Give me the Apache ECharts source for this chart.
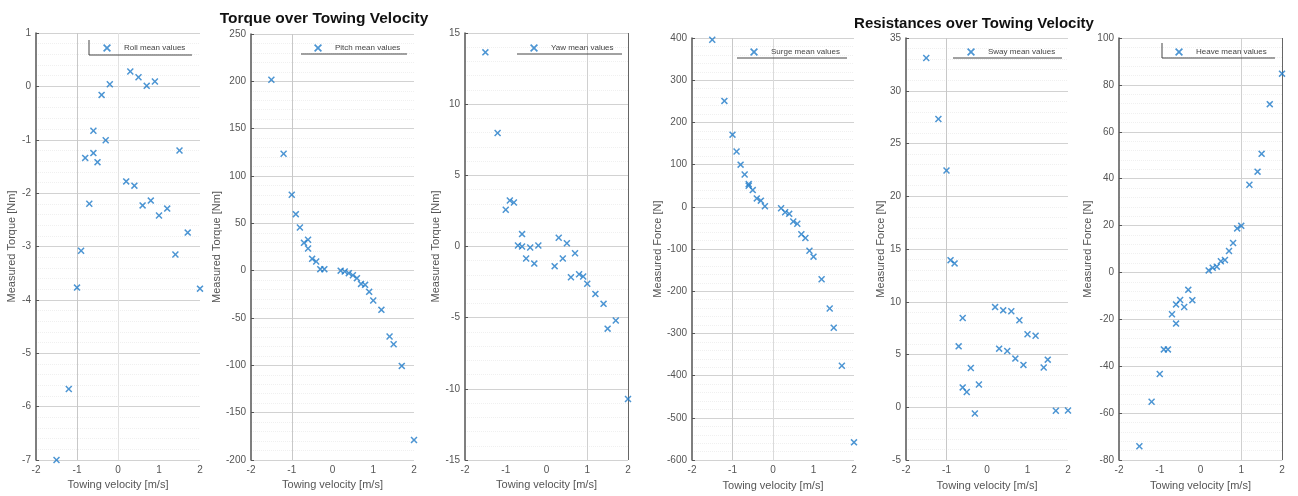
<!DOCTYPE html>
<html>
<head>
  <meta charset="UTF-8">
  <script src="https://cdn.jsdelivr.net/npm/echarts@6/dist/echarts.min.js"></script>
  <style>
    html, body { margin: 0; padding: 0; background: #fff; }
    #chart { width: 1298px; height: 496px; }
  </style>
</head>
<body>
  <div id="chart"></div>
  <script>
    // towing velocity [m/s], same run list for every panel
    var velocity = [-1.5, -1.2, -1.0, -0.9, -0.8, -0.7, -0.6, -0.6, -0.5, -0.4, -0.3, -0.2,
                    0.2, 0.3, 0.4, 0.5, 0.6, 0.7, 0.8, 0.9, 1.0, 1.2, 1.4, 1.5, 1.7, 2.0];

    // torque [Nm]
    var roll = [-7.0, -5.67, -3.77, -3.08, -1.34, -2.2, -0.83, -1.25, -1.42, -0.16, -1.01, 0.04,
                -1.78, 0.28, -1.86, 0.17, -2.23, 0.01, -2.14, 0.09, -2.42, -2.29, -3.15, -1.2, -2.74, -3.79];
    var pitch = [201.7, 123.5, 80.2, 59.7, 45.6, 29.4, 32.6, 23.4, 12.5, 9.7, 1.6, 1.6,
                 0, -0.9, -2.6, -4.8, -7.9, -14, -15, -22.4, -31.5, -41.4, -69.6, -77.7, -100.6, -178.9];
    var yaw = [13.64, 7.97, 2.58, 3.23, 3.09, 0.07, 0.87, 0.0, -0.84, -0.07, -1.2, 0.07,
               -1.38, 0.61, -0.84, 0.23, -2.16, -0.47, -1.95, -2.11, -2.62, -3.33, -4.03, -5.77, -5.2, -10.71];

    // force [N]
    var surge = [395.9, 251, 171, 131, 100, 76.6, 53.9, 50, 39.6, 20, 14.7, 1.4,
                 -3.3, -12.7, -16.6, -34.6, -40, -65, -73.8, -104, -118, -171.5, -241, -286.5, -376.5, -558];
    var sway = [33.1, 27.33, 22.44, 13.95, 13.64, 5.78, 8.47, 1.89, 1.45, 3.73, -0.58, 2.17,
                9.5, 5.56, 9.19, 5.34, 9.1, 4.62, 8.25, 4.02, 6.93, 6.78, 3.77, 4.52, -0.33, -0.3];
    var heave = [-74.1, -55.1, -43.3, -32.8, -32.8, -17.8, -21.8, -13.6, -11.7, -14.7, -7.4, -11.8,
                 0.9, 2.0, 2.5, 4.8, 5.3, 9.2, 12.6, 18.8, 19.9, 37.4, 43.0, 50.6, 71.8, 84.8];

    var seriesNames = ['Roll mean values', 'Pitch mean values', 'Yaw mean values',
                       'Surge mean values', 'Sway mean values', 'Heave mean values'];
    var yNames = ['Measured Torque [Nm]', 'Measured Torque [Nm]', 'Measured Torque [Nm]',
                  'Measured Force [N]', 'Measured Force [N]', 'Measured Force [N]'];
    var yMin = [-7, -200, -15, -600, -5, -80];
    var yMax = [1, 250, 15, 400, 35, 100];
    var yStep = [1, 50, 5, 100, 5, 20];
    var values = [roll, pitch, yaw, surge, sway, heave];

    // layout of the six panels (pixels)
    var panels = [
      {left: 36,   top: 33, w: 164, h: 427, gap: 19, legX: 103,  legY: 44},
      {left: 251,  top: 34, w: 163, h: 426, gap: 24, legX: 314,  legY: 44},
      {left: 465,  top: 33, w: 163, h: 427, gap: 18, legX: 530,  legY: 44},
      {left: 692,  top: 38, w: 162, h: 425, gap: 25, legX: 750,  legY: 48},
      {left: 906,  top: 38, w: 162, h: 425, gap: 18, legX: 967,  legY: 48},
      {left: 1119, top: 38, w: 163, h: 425, gap: 21, legX: 1175, legY: 48}
    ];
    // leftover vertical lines of the scanned grid, per tick -2..2
    var clear = 'rgba(0,0,0,0)';
    var vLines = [
      [clear, '#c8c8c8', '#e2e2e2', clear, clear],
      [clear, '#c8c8c8', clear, clear, clear],
      [clear, clear, clear, '#d0d0d0', '#666'],
      [clear, '#c8c8c8', '#dadada', clear, clear],
      [clear, '#c8c8c8', clear, clear, clear],
      [clear, clear, clear, '#d0d0d0', '#666']
    ];
    // legend box edges: [x1, x2, y, drawLeftEdge]
    var boxes = [
      [89, 192, 55, true], [301, 407, 54, false], [517, 622, 54, false],
      [737, 847, 58, false], [953, 1062, 58, false], [1162, 1275, 58, true]
    ];

    var cross = 'path://M0,1.5 L1.5,0 L5,3.5 L8.5,0 L10,1.5 L6.5,5 L10,8.5 L8.5,10 L5,6.5 L1.5,10 L0,8.5 L3.5,5 Z';
    var blue = '#1f7bc8';
    var font = 'Liberation Sans';

    var grids = [], xAxes = [], yAxes = [], series = [], legends = [], graphics = [];
    panels.forEach(function (p, i) {
      grids.push({left: p.left, top: p.top, width: p.w, height: p.h});
      xAxes.push({
        type: 'value', gridIndex: i, min: -2, max: 2, interval: 1,
        name: 'Towing velocity [m/s]', nameLocation: 'middle', nameGap: 17,
        nameTextStyle: {fontFamily: font, fontSize: 11, color: '#555'},
        axisLine: {show: false, onZero: false}, axisTick: {show: false},
        axisLabel: {fontFamily: font, fontSize: 10, color: '#555', margin: 5},
        splitLine: {show: true, lineStyle: {color: vLines[i], width: 1}}
      });
      yAxes.push({
        type: 'value', gridIndex: i, min: yMin[i], max: yMax[i], interval: yStep[i],
        name: yNames[i], nameLocation: 'middle', nameGap: p.gap,
        nameTextStyle: {fontFamily: font, fontSize: 11, color: '#555'},
        axisLine: {show: true, onZero: false, lineStyle: {color: '#555', width: 1.5}},
        axisTick: {show: true, inside: true, length: 3, lineStyle: {color: '#555'}},
        axisLabel: {fontFamily: font, fontSize: 10, color: '#555', margin: 5},
        splitLine: {show: true, lineStyle: {color: '#d2d2d2', width: 1}},
        minorTick: {show: false, splitNumber: 5},
        minorSplitLine: {show: true, lineStyle: {color: '#f0f0f0', type: 'dotted', width: 1}}
      });
      series.push({
        name: seriesNames[i], type: 'scatter', xAxisIndex: i, yAxisIndex: i,
        symbol: cross, symbolSize: 7, itemStyle: {color: blue},
        data: velocity.map(function (v, k) { return [v, values[i][k]]; })
      });
      legends.push({
        data: [seriesNames[i]], left: p.legX, top: p.legY, padding: 0,
        selectedMode: false, icon: cross, itemWidth: 8, itemHeight: 8, itemGap: 0,
        textStyle: {fontFamily: font, fontSize: 8, color: '#444', padding: [0, 0, 0, 8]}
      });
      var b = boxes[i];
      graphics.push({
        type: 'polyline', silent: true, z: 100,
        shape: {points: b[3] ? [[b[0], b[2] - 15], [b[0], b[2]], [b[1], b[2]]] : [[b[0], b[2]], [b[1], b[2]]]},
        style: {stroke: '#444', lineWidth: 1, fill: null, lineDash: null}
      });
    });

    var myChart = echarts.init(document.getElementById('chart'));
    myChart.setOption({
      backgroundColor: '#fff',
      animation: false,
      title: [
        {text: 'Torque over Towing Velocity', left: 319, top: 6, textAlign: 'center',
         textStyle: {fontFamily: font, fontSize: 15.5, fontWeight: 'bold', color: '#111'}},
        {text: 'Resistances over Towing Velocity', left: 969, top: 11, textAlign: 'center',
         textStyle: {fontFamily: font, fontSize: 15, fontWeight: 'bold', color: '#111'}}
      ],
      grid: grids,
      xAxis: xAxes,
      yAxis: yAxes,
      legend: legends,
      graphic: graphics,
      series: series
    });
  </script>
</body>
</html>
